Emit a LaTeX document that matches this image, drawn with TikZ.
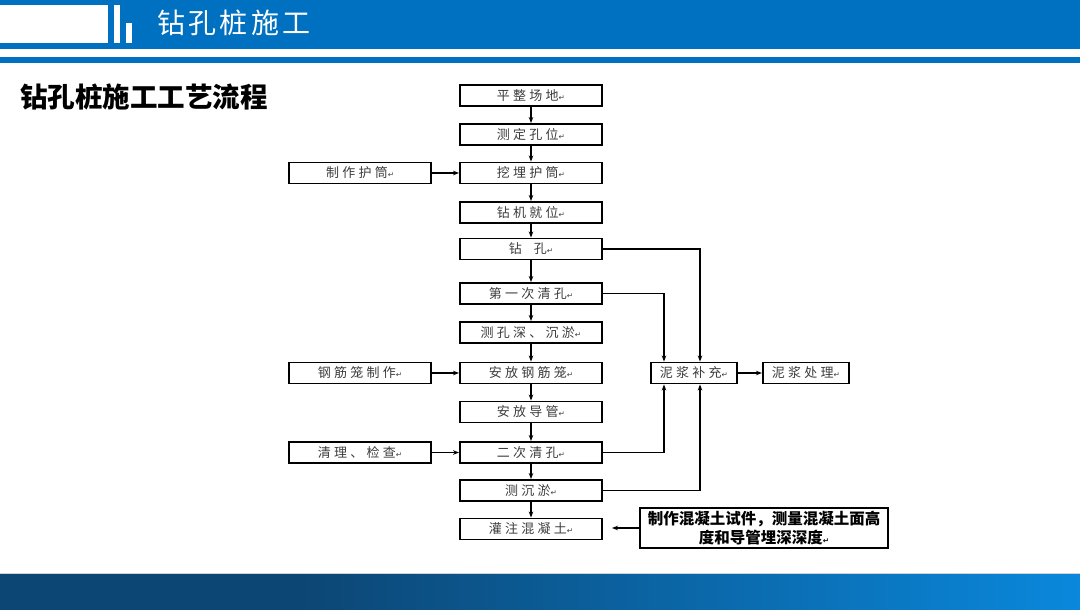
\documentclass[tikz,border=0pt]{standalone}
\usepackage{fontspec}
\usepackage{xcolor}
\usepackage{tikz}
\usetikzlibrary{
  arrows.meta,
  positioning
}
\newfontfamily\cjk{Noto Sans CJK SC}
\newfontfamily\cjkbox[LetterSpace=25]{Noto Sans CJK SC}
\newfontfamily\cjktitle[LetterSpace=12]{Noto Sans CJK SC}
\newfontfamily\retfont{DejaVu Sans}
\definecolor{hdrblue}{RGB}{0,112,192}
\definecolor{bandleft}{RGB}{12,70,116}
\definecolor{bandright}{RGB}{10,136,220}
\definecolor{boxtext}{RGB}{60,60,60}
\newcommand\retmk{{\retfont\fontsize{7.5}{7.5}\selectfont\char"21B5}}

\begin{document}
\begin{tikzpicture}[
  x=1pt, y=-1pt,
  stepbox/.style={draw, line width=1.9pt, minimum width=142pt, minimum height=21pt,
                  inner sep=0pt, font=\cjkbox\fontsize{13}{13}\selectfont, text=boxtext},
  sidebox/.style={stepbox, minimum width=86pt},
  arr/.style={-{Stealth[length=6pt, width=4.5pt]}, line width=1.5pt}
]
  \useasboundingbox (0,0) rectangle (1080,610);

  % Header band
  \fill[hdrblue] (0,0) rectangle (1080,49);
  \fill[hdrblue] (0,57) rectangle (1080,63);
  \fill[white] (0,5) rectangle (108,43);
  \fill[white] (114,5) rectangle (120,43);
  \fill[white] (126,23) rectangle (132,43);
  \node[anchor=west, inner sep=0pt, text=white, font=\cjktitle\fontsize{28}{28}\selectfont]
    (title) at (157,23) {钻孔桩施工};

  % Footer band
  \fill[bandleft] (0,574) rectangle (300,610);
  \shade[left color=bandleft, right color=bandright] (300,574) rectangle (1080,610);
  \draw[gray!35, line width=1pt] (0,573.5) -- (1080,573.5);

  % Heading
  \node[anchor=west, inner sep=0pt, font=\cjk\bfseries\fontsize{27.5}{27.5}\selectfont]
    (heading) at (20,97) {钻孔桩施工工艺流程};

  % Main steps
  \foreach \i/\y/\t in {1/95.5/平整场地, 2/134.5/测定孔位, 3/173/挖埋护筒, 4/212.5/钻机就位,
                        5/249/钻\hspace{12pt}孔, 6/293.5/第一次清孔, 7/332.5/测孔深、沉淤,
                        8/373/安放钢筋笼, 9/412/安放导管, 10/452.5/二次清孔,
                        11/490.5/测沉淤, 12/529/灌注混凝土} {
    \node[stepbox] (s\i) at (531,\y) {\t\retmk};
  }
  \foreach \i in {1,...,11} {
    \pgfmathtruncatemacro{\j}{\i+1}
    \draw[arr] (s\i) -- (s\j);
  }

  % Side preparations
  \foreach \i/\t in {3/制作护筒, 8/钢筋笼制作, 10/清理、检查} {
    \node[stepbox, left=27pt of s\i] (m\i) {\t\retmk};
    \draw[arr] (m\i) -- (s\i);
  }

  % Slurry
  \node[sidebox] (mud) at (694,373) {泥浆补充\retmk};
  \node[sidebox, right=24pt of mud] (mudout) {泥浆处理\retmk};
  \draw[arr] (mud) -- (mudout);
  \draw[arr] (s5.east) -| ([xshift=6pt]mud.north);
  \draw[arr] (s6.east) -| ([xshift=-30pt]mud.north);
  \draw[arr] (s10.east) -| ([xshift=-30pt]mud.south);
  \draw[arr] (s11.east) -| ([xshift=6pt]mud.south);

  % Concrete checks
  \node[draw, line width=1.9pt, minimum width=248pt, minimum height=40pt, inner sep=2pt,
        align=center, font=\cjk\bfseries\fontsize{15.5}{19}\selectfont]
    (test) at (764,528) {制作混凝土试件，测量混凝土面高\\度和导管埋深深度\retmk};
  \draw[arr, shorten >=9pt] (test.west) -- (test.west -| s12.east);
\end{tikzpicture}
\end{document}
